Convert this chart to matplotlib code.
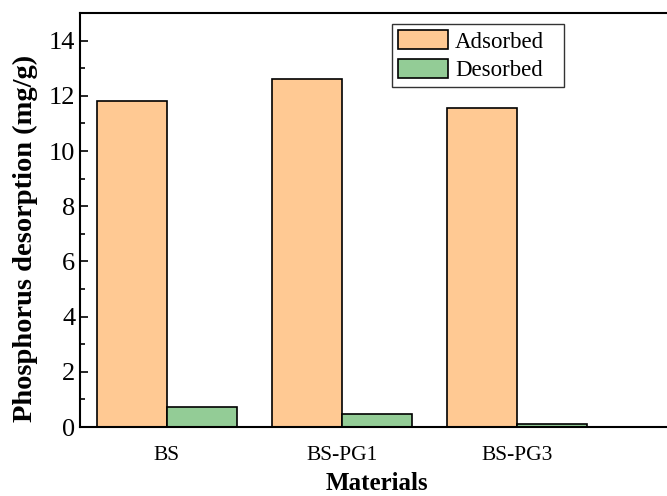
import matplotlib
matplotlib.use("Agg")
import matplotlib.pyplot as plt
import numpy as np
from matplotlib.ticker import MultipleLocator

materials = ["BS", "BS-PG1", "BS-PG3"]
adsorbed = [11.80, 12.61, 11.55]
desorbed = [0.72, 0.48, 0.11]
series_labels = ["Adsorbed", "Desorbed"]

plt.rcParams["font.family"] = ["Liberation Serif", "DejaVu Serif"]

fig = plt.figure(figsize=(6.67, 4.96), dpi=100)
W, H = 667, 496
left_px, right_px, top_px, bottom_px = 79.5, 674.5, 13, 427
ax = fig.add_axes([left_px / W, 1 - bottom_px / H,
                   (right_px - left_px) / W, (bottom_px - top_px) / H])

x = np.arange(len(materials))
w = 0.4
ax.bar(x - w / 2, adsorbed, w, color="#FFC993", edgecolor="black",
       linewidth=1.2, label=series_labels[0])
ax.bar(x + w / 2, desorbed, w, color="#93CC96", edgecolor="black",
       linewidth=1.2, label=series_labels[1])

ax.set_xlim(-0.5, 2.9)
ax.set_ylim(0, 15)
ax.set_xticks(x)
ax.set_xticklabels(materials, fontsize=15.5)
ax.tick_params(axis="x", length=0, pad=14)
ax.yaxis.set_major_locator(MultipleLocator(2))
ax.yaxis.set_minor_locator(MultipleLocator(1))
ax.tick_params(axis="y", which="major", direction="in", length=6, width=1.2,
               labelsize=19, pad=3)
ax.tick_params(axis="y", which="minor", direction="in", length=3.5, width=1.2)
for s in ax.spines.values():
    s.set_linewidth(1.5)

ax.set_ylabel("Phosphorus desorption (mg/g)", fontsize=20.5, fontweight="bold")
ax.yaxis.set_label_coords((38 - left_px) / (right_px - left_px),
                          (bottom_px - 238.5) / (bottom_px - top_px))
ax.set_xlabel("Materials", fontsize=18, fontweight="bold", labelpad=5)

leg = ax.legend(loc="upper left",
                bbox_to_anchor=(391.5 / W, 1 - 86.5 / H, 172.5 / W, 62.5 / H),
                bbox_transform=fig.transFigure, mode="expand",
                fontsize=16.5, frameon=True,
                fancybox=False, edgecolor="black", handlelength=2.2,
                handleheight=0.9, handletextpad=0.3, labelspacing=0.25,
                borderpad=0.28, borderaxespad=0)
leg.get_frame().set_linewidth(1.0)

fig.savefig("out.png", dpi=100)
